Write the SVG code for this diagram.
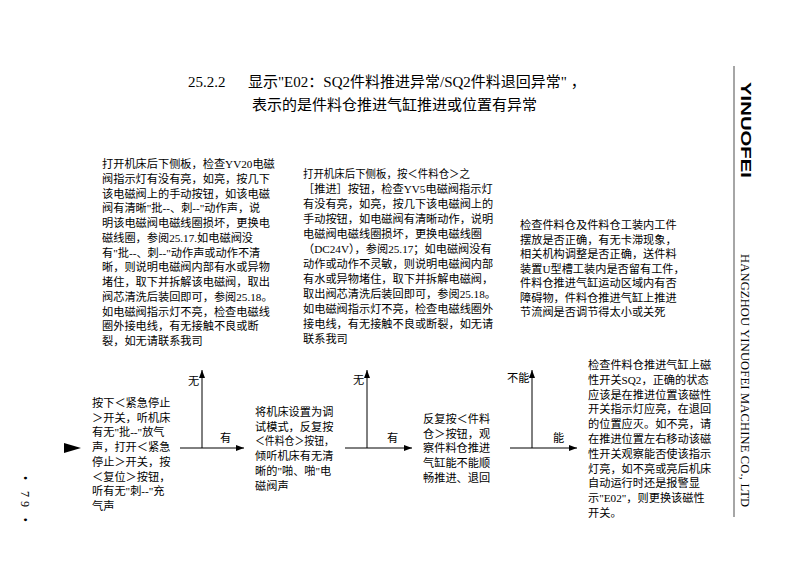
<svg xmlns="http://www.w3.org/2000/svg" width="793" height="561" viewBox="0 0 793 561">
<style>
.t{font-family:"Liberation Serif","Noto Sans CJK SC",serif;font-size:11.2px;fill:#000}
.ti{font-family:"Liberation Serif","Noto Sans CJK SC",serif;font-size:15px;fill:#000}
.lb{font-family:"Liberation Serif","Noto Sans CJK SC",serif;font-size:11.2px;fill:#000}
.ln{stroke:#000;stroke-width:1;fill:none}
</style>
<defs>
<marker id="ah" markerUnits="userSpaceOnUse" markerWidth="9" markerHeight="7" refX="8" refY="3" orient="auto">
<path d="M0,0 L8,3 L0,6 z" fill="#000"/>
</marker>
</defs>
<rect width="793" height="561" fill="#fff"/>

<g id="title">
<text class="ti" y="87"><tspan x="188">25.2.2</tspan><tspan x="248">显示"E02：SQ2件料推进异常/SQ2件料退回异常" ，</tspan></text>
<text class="ti" x="252" y="110">表示的是件料仓推进气缸推进或位置有异常</text>
</g>

<g id="header">
<line x1="734" y1="66" x2="734" y2="517" stroke="#888" stroke-width="1.5"/>
<text transform="translate(741,82) rotate(90)" font-family="Liberation Sans,Arial,sans-serif" font-weight="bold" font-size="14.5" textLength="96" lengthAdjust="spacingAndGlyphs">YINUOFEI</text>
<text transform="translate(741,254) rotate(90)" font-family="Liberation Serif,serif" font-size="12.5" textLength="253" lengthAdjust="spacing">HANGZHOU YINUOFEI MACHINE CO., LTD</text>
</g>

<g id="page-number">
<text transform="translate(21,476) rotate(90)" font-family="Liberation Serif,serif" font-size="12" textLength="46" lengthAdjust="spacing">• 79 •</text>
</g>

<g id="node-left-check">
<text class="t">
<tspan x="102" y="168">打开机床后下侧板，检查YV20电磁</tspan>
<tspan x="102" y="182.75">阀指示灯有没有亮，如亮，按几下</tspan>
<tspan x="102" y="197.5">该电磁阀上的手动按钮，如该电磁</tspan>
<tspan x="102" y="212.25">阀有清晰"批--、刺--"动作声，说</tspan>
<tspan x="102" y="227">明该电磁阀电磁线圈损坏，更换电</tspan>
<tspan x="102" y="241.75">磁线圈，参阅25.17.如电磁阀没</tspan>
<tspan x="102" y="256.5">有"批--、刺--"动作声或动作不清</tspan>
<tspan x="102" y="271.25">晰，则说明电磁阀内部有水或异物</tspan>
<tspan x="102" y="286">堵住，取下并拆解该电磁阀，取出</tspan>
<tspan x="102" y="300.75">阀芯清洗后装回即可，参阅25.18。</tspan>
<tspan x="102" y="315.5">如电磁阀指示灯不亮，检查电磁线</tspan>
<tspan x="102" y="330.25">圈外接电线，有无接触不良或断</tspan>
<tspan x="102" y="345">裂，如无请联系我司</tspan>
</text>
</g>

<g id="node-middle-check">
<text class="t">
<tspan x="303" y="178" textLength="167" lengthAdjust="spacingAndGlyphs">打开机床后下侧板，按＜件料仓＞之</tspan>
<tspan x="303" y="193">［推进］按钮，检查YV5电磁阀指示灯</tspan>
<tspan x="303" y="208">有没有亮，如亮，按几下该电磁阀上的</tspan>
<tspan x="303" y="223">手动按钮，如电磁阀有清晰动作，说明</tspan>
<tspan x="303" y="238">电磁阀电磁线圈损坏，更换电磁线圈</tspan>
<tspan x="303" y="253">（DC24V），参阅25.17；如电磁阀没有</tspan>
<tspan x="303" y="268">动作或动作不灵敏，则说明电磁阀内部</tspan>
<tspan x="303" y="283">有水或异物堵住，取下并拆解电磁阀，</tspan>
<tspan x="303" y="298">取出阀芯清洗后装回即可，参阅25.18。</tspan>
<tspan x="303" y="313">如电磁阀指示灯不亮，检查电磁线圈外</tspan>
<tspan x="303" y="328">接电线，有无接触不良或断裂，如无请</tspan>
<tspan x="303" y="343">联系我司</tspan>
</text>
</g>

<g id="node-right-check">
<text class="t">
<tspan x="520" y="229">检查件料仓及件料仓工装内工件</tspan>
<tspan x="520" y="243.5">摆放是否正确，有无卡滞现象，</tspan>
<tspan x="520" y="258">相关机构调整是否正确，送件料</tspan>
<tspan x="520" y="272.5">装置U型槽工装内是否留有工件，</tspan>
<tspan x="520" y="287">件料仓推进气缸运动区域内有否</tspan>
<tspan x="520" y="301.5">障碍物，件料仓推进气缸上推进</tspan>
<tspan x="520" y="316">节流阀是否调节得太小或关死</tspan>
</text>
</g>

<g id="node-sensor-check">
<text class="t">
<tspan x="588" y="369">检查件料仓推进气缸上磁</tspan>
<tspan x="588" y="383.8">性开关SQ2，正确的状态</tspan>
<tspan x="588" y="398.6">应该是在推进位置该磁性</tspan>
<tspan x="588" y="413.4">开关指示灯应亮，在退回</tspan>
<tspan x="588" y="428.2">的位置应灭。如不亮，请</tspan>
<tspan x="588" y="443">在推进位置左右移动该磁</tspan>
<tspan x="588" y="457.8">性开关观察能否使该指示</tspan>
<tspan x="588" y="472.6">灯亮，如不亮或亮后机床</tspan>
<tspan x="588" y="487.4">自动运行时还是报警显</tspan>
<tspan x="588" y="502.2">示"E02"，则更换该磁性</tspan>
<tspan x="588" y="517">开关。</tspan>
</text>
</g>

<g id="node-emergency-stop">
<text class="t">
<tspan x="92" y="407">按下＜紧急停止</tspan>
<tspan x="92" y="421.7">＞开关，听机床</tspan>
<tspan x="92" y="436.4">有无"批--"放气</tspan>
<tspan x="92" y="451.1">声，打开＜紧急</tspan>
<tspan x="92" y="465.8">停止＞开关，按</tspan>
<tspan x="92" y="480.5">＜复位＞按钮，</tspan>
<tspan x="92" y="495.2">听有无"刺--"充</tspan>
<tspan x="92" y="509.9">气声</tspan>
</text>
</g>

<g id="node-debug-mode">
<text class="t">
<tspan x="255" y="416">将机床设置为调</tspan>
<tspan x="255" y="430.7">试模式，反复按</tspan>
<tspan x="255" y="445.4" textLength="79" lengthAdjust="spacingAndGlyphs">＜件料仓＞按钮，</tspan>
<tspan x="255" y="460.1">倾听机床有无清</tspan>
<tspan x="255" y="474.8">晰的"啪、啪"电</tspan>
<tspan x="255" y="489.5">磁阀声</tspan>
</text>
</g>

<g id="node-cylinder-check">
<text class="t">
<tspan x="423" y="423">反复按＜件料</tspan>
<tspan x="423" y="437.7">仓＞按钮，观</tspan>
<tspan x="423" y="452.4">察件料仓推进</tspan>
<tspan x="423" y="467.1">气缸能不能顺</tspan>
<tspan x="423" y="481.8">畅推进、退回</tspan>
</text>
</g>

<g id="connectors">
<polygon points="64,443 81,448 64,453" fill="#000"/>
<line class="ln" x1="180" y1="448" x2="244" y2="448" marker-end="url(#ah)"/>
<line class="ln" x1="202" y1="448" x2="202" y2="370" marker-end="url(#ah)"/>
<text class="lb" x="188" y="385">无</text>
<text class="lb" x="220" y="442">有</text>
<line class="ln" x1="345" y1="448" x2="412" y2="448" marker-end="url(#ah)"/>
<line class="ln" x1="367" y1="448" x2="367" y2="370" marker-end="url(#ah)"/>
<text class="lb" x="353" y="384">无</text>
<text class="lb" x="387" y="442">有</text>
<line class="ln" x1="510" y1="448" x2="577" y2="448" marker-end="url(#ah)"/>
<line class="ln" x1="532" y1="448" x2="532" y2="370" marker-end="url(#ah)"/>
<text class="lb" x="507" y="382">不能</text>
<text class="lb" x="553" y="442">能</text>
</g>
</svg>
